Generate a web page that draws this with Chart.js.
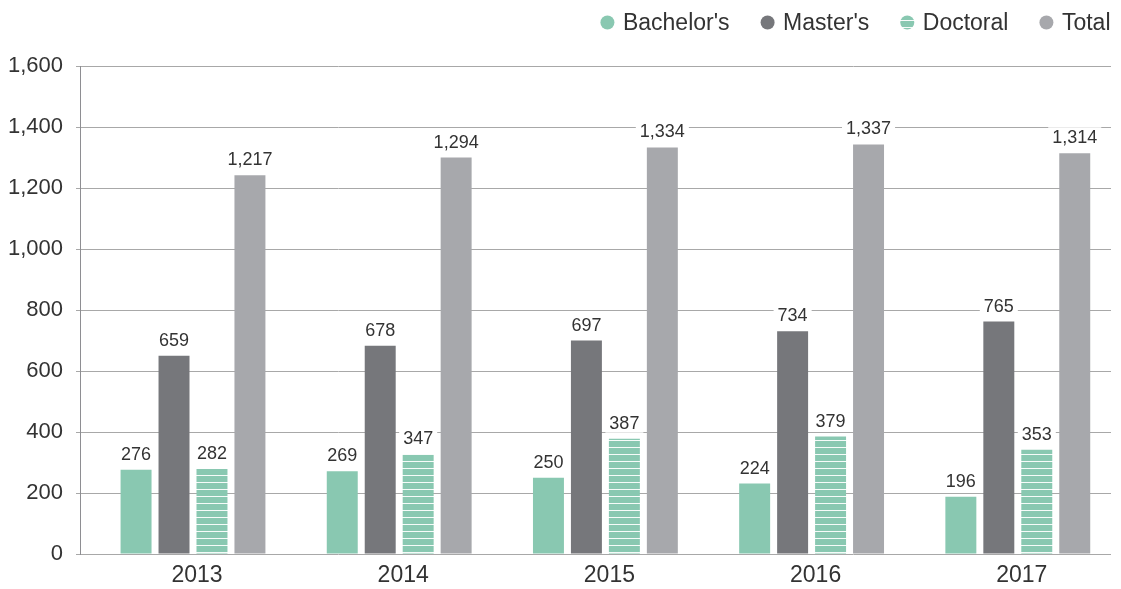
<!DOCTYPE html>
<html><head><meta charset="utf-8">
<script src="https://cdn.jsdelivr.net/npm/chart.js@4.4.1/dist/chart.umd.min.js"></script>
<style>html,body{margin:0;padding:0;background:#fff;}#wrap{width:1121px;height:589px;position:relative;}</style>
</head><body><div id="wrap"><canvas id="c" width="1121" height="589"></canvas></div>
<script>
const years = ['2013', '2014', '2015', '2016', '2017'];
const seriesNames = ["Bachelor's", "Master's", "Doctoral", "Total"];
const bachelor = [276, 271, 250, 231, 188];
const master = [650, 683, 700, 730, 762];
const doctoral = [279, 327, 378, 385, 342];
const total = [1242, 1300, 1333, 1343, 1314];
const bachelorLabels = ['276', '269', '250', '224', '196'];
const masterLabels = ['659', '678', '697', '734', '765'];
const doctoralLabels = ['282', '347', '387', '379', '353'];
const totalLabels = ['1,217', '1,294', '1,334', '1,337', '1,314'];
const yTickValues = [0, 200, 400, 600, 800, 1000, 1200, 1400, 1600];

const FONT = "'Liberation Sans', Arial, sans-serif";
const GREEN = '#89c8b1', DARK = '#76777b', LIGHT = '#a7a8ac', TEXT = '#333333';

const canvas = document.getElementById('c');
const ctx0 = canvas.getContext('2d');
function stripePattern() {
  const t = document.createElement('canvas');
  t.width = 8; t.height = 7;
  const g = t.getContext('2d');
  g.fillStyle = GREEN; g.fillRect(0, 0, 8, 7);
  g.fillStyle = 'rgba(255,255,255,0.92)'; g.fillRect(0, 6, 8, 1);
  return ctx0.createPattern(t, 'repeat');
}
const STRIPES = stripePattern();

const toXY = arr => arr.map((v, i) => ({ x: i, y: v }));
const valueLabels = [bachelorLabels, masterLabels, doctoralLabels, totalLabels];

const dataLabelPlugin = {
  id: 'dataLabels',
  afterDatasetsDraw(chart) {
    const ctx = chart.ctx;
    ctx.save();
    ctx.font = '18px ' + FONT;
    chart.data.datasets.forEach((ds, i) => {
      const meta = chart.getDatasetMeta(i);
      meta.data.forEach((bar, j) => {
        const t = valueLabels[i][j];
        const w = ctx.measureText(t).width;
        const by = bar.y - 10;
        ctx.fillStyle = '#ffffff';
        ctx.fillRect(bar.x - w / 2 - 4, by - 16, w + 8, 20);
        ctx.fillStyle = TEXT;
        ctx.textAlign = 'center';
        ctx.textBaseline = 'alphabetic';
        ctx.fillText(t, bar.x, by);
      });
    });
    ctx.restore();
  }
};

const legendPlugin = {
  id: 'customLegend',
  afterDraw(chart) {
    const ctx = chart.ctx;
    ctx.save();
    ctx.font = '23px ' + FONT;
    ctx.textBaseline = 'middle';
    ctx.textAlign = 'left';
    const cy = 22.5, r = 7;
    let x = 1110.5;
    const ds = chart.data.datasets;
    for (let i = ds.length - 1; i >= 0; i--) {
      const label = ds[i].label;
      const w = ctx.measureText(label).width;
      const tx = x - w;
      ctx.fillStyle = TEXT;
      ctx.fillText(label, tx, cy + 1);
      const cx = tx - 8.5 - r;
      ctx.beginPath();
      ctx.arc(cx, cy, r, 0, Math.PI * 2);
      ctx.fillStyle = ds[i].backgroundColor;
      ctx.fill();
      x = cx - r - 31;
    }
    ctx.restore();
  }
};

new Chart(canvas, {
  type: 'bar',
  data: {
    datasets: [
      { label: seriesNames[0], data: toXY(bachelor), backgroundColor: GREEN },
      { label: seriesNames[1], data: toXY(master), backgroundColor: DARK },
      { label: seriesNames[2], data: toXY(doctoral), backgroundColor: STRIPES },
      { label: seriesNames[3], data: toXY(total), backgroundColor: LIGHT }
    ]
  },
  options: {
    responsive: false,
    animation: false,
    devicePixelRatio: 1,
    layout: { padding: { top: 66, right: 10, bottom: 0, left: 0 } },
    datasets: { bar: { categoryPercentage: 0.7364, barPercentage: 0.8158 } },
    plugins: { legend: { display: false }, tooltip: { enabled: false } },
    scales: {
      x: {
        type: 'linear',
        offset: false,
        min: -0.548, max: 4.452,
        grid: { display: false, drawTicks: false, offset: false },
        border: { display: false },
        afterBuildTicks: s => { s.ticks = years.map((_, i) => ({ value: i })); },
        afterFit: s => { s.height = 35; },
        ticks: {
          callback: v => years[v],
          labelOffset: 4,
          padding: 8,
          color: TEXT,
          font: { family: FONT, size: 23, lineHeight: 1.2 }
        }
      },
      y: {
        min: 0, max: 1600,
        afterFit: s => { s.width = 80; },
        afterBuildTicks: s => { s.ticks = yTickValues.map(v => ({ value: v })); },
        grid: { color: '#a8a8a8', lineWidth: 1, drawTicks: true, tickLength: 4 },
        border: { display: true, color: '#8e8e92', width: 1 },
        ticks: {
          padding: 13,
          color: TEXT,
          font: { family: FONT, size: 22 },
          callback: v => v.toLocaleString('en-US')
        }
      }
    }
  },
  plugins: [dataLabelPlugin, legendPlugin]
});
</script></body></html>
